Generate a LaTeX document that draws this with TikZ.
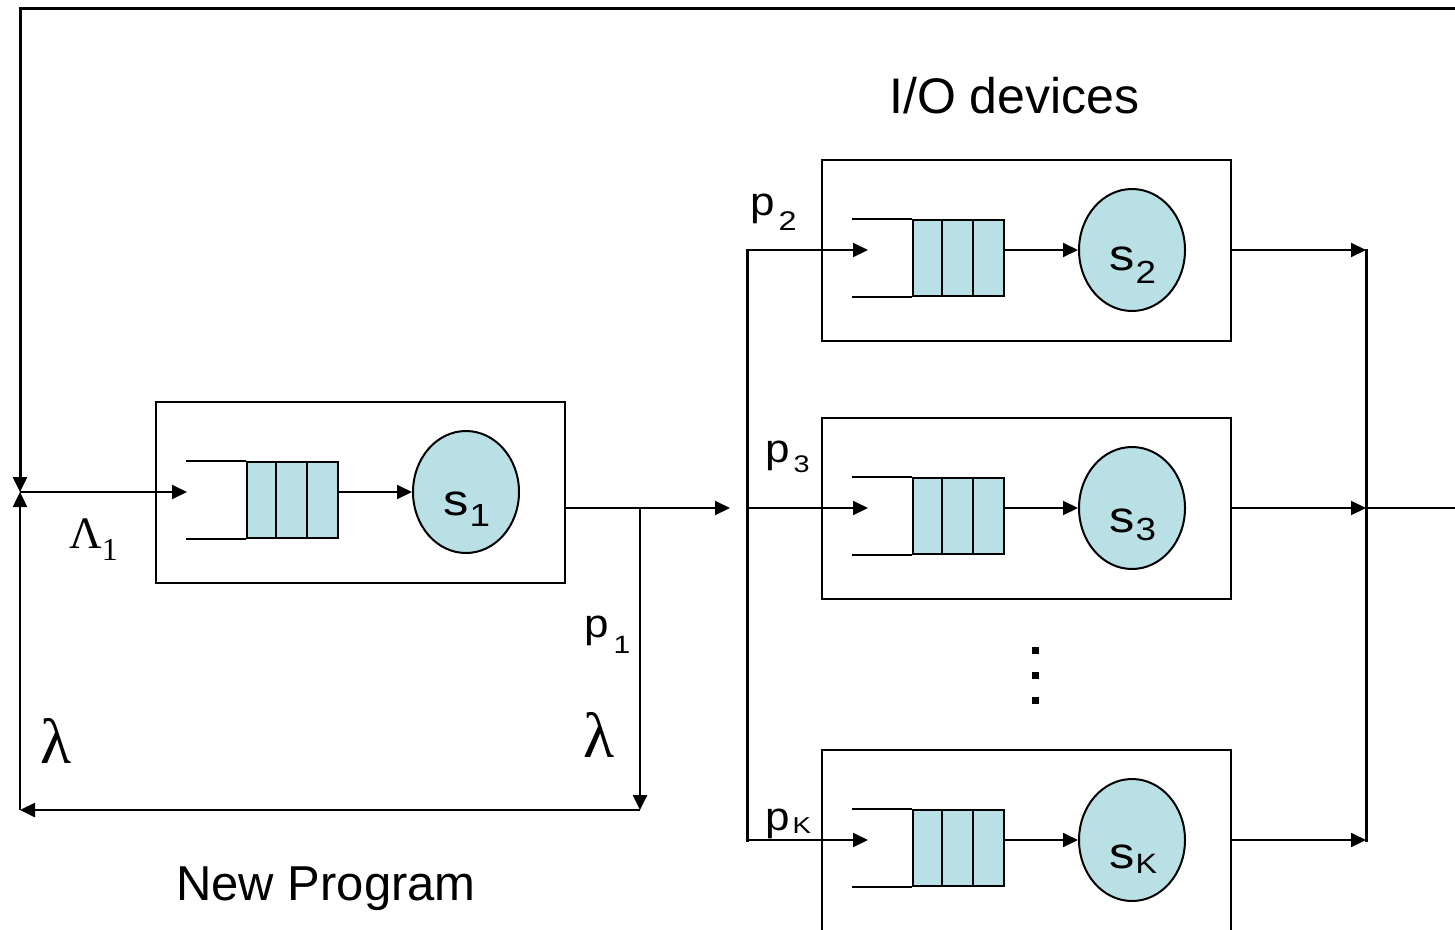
\documentclass[tikz,border=0pt]{standalone}
\usepackage{fontspec}
\setmainfont{Liberation Sans}
\newfontfamily\greekserif{Liberation Serif}
\usetikzlibrary{arrows.meta,shapes.geometric}
\definecolor{queuefill}{RGB}{185,224,228}
\newcommand{\fs}[1]{\fontsize{#1}{#1}\selectfont}
% wide glyphs for the station and branch labels
\newcommand{\wide}[2]{\scalebox{#1}[1]{#2}}

\tikzset{
  conn/.style={line width=2pt, -{Triangle[length=15pt,width=14pt]}},
  wire/.style={line width=2pt},
  thickwire/.style={line width=3pt, line cap=rect},
  stationbox/.style={draw, line width=2pt, minimum width=409pt, minimum height=181pt, inner sep=0},
  queuecells/.style={draw, fill=queuefill, line width=2pt, minimum width=91pt, minimum height=76pt, inner sep=0},
  server/.style={ellipse, draw, fill=queuefill, line width=2pt, minimum width=106pt, minimum height=122pt, inner sep=0},
  txt/.style={inner sep=0, anchor=base west},
}

% one service station: box, open-ended queue with three cells, server
% #1 id, #2 left edge of the box, #3 height of the flow line
\newcommand{\station}[3]{%
  \node[stationbox] (box#1) at (#2+204.5,#3) {};
  \node[queuecells] (q#1) at (#2+136.5,#3+8) {};
  \draw[wire] (q#1.north west) -- ++(-60,0);
  \draw[wire] (q#1.south west) -- ++(-60,0);
  \draw[wire] ([xshift=30.3pt]q#1.north west) -- ([xshift=30.3pt]q#1.south west);
  \draw[wire] ([xshift=60.7pt]q#1.north west) -- ([xshift=60.7pt]q#1.south west);
  \node[server] (c#1) at (#2+310,#3) {};
  \draw[conn] (q#1.east |- c#1.center) -- (c#1.west);
  \coordinate (in#1) at (#2+31,#3);
}

\begin{document}
\begin{tikzpicture}[x=1pt,y=-1pt]
\useasboundingbox (0,0) rectangle (1455,929);
\clip (0,0) rectangle (1455,929);

% stations
\station{1}{156}{492}
\station{2}{822}{250}
\station{3}{822}{508}
\station{K}{822}{840}

% server labels
\node[txt, font=\fs{44}] (l1) at (443,515) {\wide{1.15}{s}\kern1pt\raisebox{-11pt}{\wide{1.15}{\fs{32}1}}};
\node[txt, font=\fs{44}] (l2) at (1109,270) {\wide{1.15}{s}\kern1pt\raisebox{-13pt}{\wide{1.15}{\fs{32}2}}};
\node[txt, font=\fs{44}] (l3) at (1109,532) {\wide{1.15}{s}\kern1pt\raisebox{-8pt}{\wide{1.15}{\fs{32}3}}};
\node[txt, font=\fs{44}] (lK) at (1109,868) {\wide{1.15}{s}\kern1pt\raisebox{-5pt}{\wide{1.15}{\fs{28}K}}};

% junction points
\coordinate (tl) at (20,8);
\coordinate (tr) at (1455,8);
\coordinate (j1) at (20,492);
\coordinate (bl) at (20,810);
\coordinate (sp) at (640,508);
\coordinate (spd) at (640,810);
\coordinate (t1) at (730,508);
\coordinate (b2) at (747,250);
\coordinate (b3) at (747,508);
\coordinate (bK) at (747,840);
\coordinate (r2) at (1366,250);
\coordinate (r3) at (1366,508);
\coordinate (rK) at (1366,840);
\coordinate (out) at (1455,508);

% feedback loop and new programs
\draw[conn, line width=3pt] (tr) -- (tl) -- (j1);
\draw[conn, line width=2.5pt] (bl) -- (j1);
\draw[conn] (j1) -- (in1);
\draw[conn] ([yshift=-16pt]box1.east) -- (t1);
\draw[conn, line width=2.5pt] (sp) -- (spd);
\draw[conn, line width=2.5pt] (spd) -- (bl);

% I/O fan-out
\draw[thickwire] (b2) -- (bK);
\draw[conn] (b2) -- ([xshift=15pt]in2);
\draw[conn] (b3) -- ([xshift=15pt]in3);
\draw[conn] (bK) -- ([xshift=15pt]inK);

% I/O fan-in
\draw[conn] (box2.east) -- (r2);
\draw[conn] (box3.east) -- (r3);
\draw[conn] (boxK.east) -- (rK);
\draw[thickwire] (r2) -- (rK);
\draw[wire] (r3) -- (out);

% vertical ellipsis
\fill (1032,647) rectangle ++(7,7);
\fill (1032,672) rectangle ++(7,7);
\fill (1032,697) rectangle ++(7,7);

% branch probabilities
\node[txt, font=\fs{40}] (p1) at (584,637) {\wide{1.1}{p}\kern5pt\raisebox{-16pt}{\wide{1.2}{\fs{25}1}}};
\node[txt, font=\fs{40}] (p2) at (750,215) {\wide{1.1}{p}\kern4pt\raisebox{-15pt}{\wide{1.2}{\fs{27}2}}};
\node[txt, font=\fs{40}] (p3) at (765,462) {\wide{1.1}{p}\kern4pt\raisebox{-10pt}{\wide{1.2}{\fs{24}3}}};
\node[txt, font=\fs{40}] (pK) at (765,830) {\wide{1.1}{p}\kern3pt\raisebox{-3pt}{\wide{1.2}{\fs{23}K}}};

% rates
\node[txt, font=\greekserif\fs{45}] (Lam) at (69,548) {Λ\raisebox{-12pt}{\fs{32}1}};
\node[txt, font=\greekserif\fs{64}] (lamL) at (40,763) {λ};
\node[txt, font=\greekserif\fs{64}] (lamR) at (583,757) {λ};

% captions
\node[txt, font=\fs{50}] (io) at (889,113) {I/O devices};
\node[txt, font=\fs{49}] (np) at (176,900) {New Program};
\end{tikzpicture}
\end{document}
